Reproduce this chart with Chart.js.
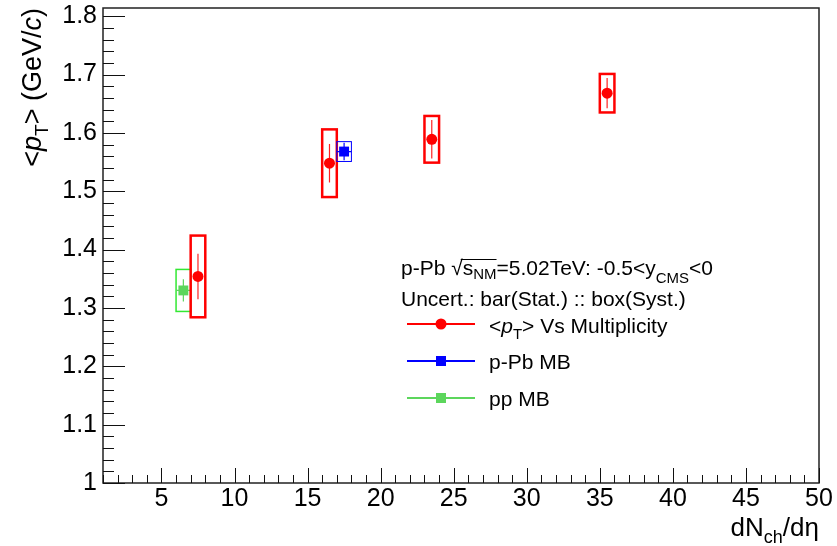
<!DOCTYPE html>
<html><head><meta charset="utf-8">
<script src="https://cdn.jsdelivr.net/npm/chart.js@4.4.1/dist/chart.umd.min.js"></script>
<style>html,body{margin:0;padding:0;background:#fff;}#wrap{width:837px;height:546px;position:relative;}</style>
</head><body><div id="wrap"><canvas id="c" width="837" height="546"></canvas></div>
<script>
// ---- data ----
const multX = [7.5, 16.5, 23.5, 35.5];
const multY = [1.354, 1.548, 1.589, 1.668];
const multStat = [0.039, 0.033, 0.033, 0.026];
const multSyst = [0.070, 0.058, 0.040, 0.033];
const pPbX = [17.5];
const pPbY = [1.568];
const pPbStat = [0.015];
const pPbSyst = [0.017];
const pPbXErr = [0.5];
const ppX = [6.5];
const ppY = [1.330];
const ppStat = [0.019];
const ppSyst = [0.036];
const ppXErr = [0.5];
const xTickValues = [5, 10, 15, 20, 25, 30, 35, 40, 45, 50];
const xTickLabels = ["5", "10", "15", "20", "25", "30", "35", "40", "45", "50"];
const yTickValues = [1, 1.1, 1.2, 1.3, 1.4, 1.5, 1.6, 1.7, 1.8];
const yTickLabels = ["1", "1.1", "1.2", "1.3", "1.4", "1.5", "1.6", "1.7", "1.8"];
const legendLabels = ["Vs Multiplicity", "p-Pb MB", "pp MB"];

const FONT = '"Liberation Sans", Arial, Helvetica, sans-serif';
const BOX_HALF_W = 0.5;

const seriesDefs = [
  {x: ppX, y: ppY, stat: ppStat, syst: ppSyst, xerr: ppXErr, color: '#5cd65c', box: '#33e833', boxLW: 1.5},
  {x: multX, y: multY, stat: multStat, syst: multSyst, xerr: null, color: '#ff2020', box: '#ff0000', boxLW: 2.5},
  {x: pPbX, y: pPbY, stat: pPbStat, syst: pPbSyst, xerr: pPbXErr, color: '#0000ff', box: '#0000ff', boxLW: 1}
];

function toPts(xs, ys) { return xs.map((v, i) => ({x: v, y: ys[i]})); }

function drawRich(ctx, x, y, parts) {
  let cx = x;
  const pos = [];
  for (const p of parts) {
    ctx.font = p.font;
    ctx.fillText(p.t, cx, y + (p.dy || 0));
    const w = ctx.measureText(p.t).width;
    pos.push([cx, cx + w]);
    cx += w + (p.gap || 0);
  }
  return {end: cx, pos};
}
function richWidth(ctx, parts) {
  let w = 0;
  for (const p of parts) { ctx.font = p.font; w += ctx.measureText(p.t).width + (p.gap || 0); }
  return w;
}

const errPlugin = {
  id: 'errPlugin',
  beforeDatasetsDraw(chart) {
    const ctx = chart.ctx, xs = chart.scales.x, ys = chart.scales.y;
    ctx.save();
    for (const s of seriesDefs) {
      for (let i = 0; i < s.x.length; i++) {
        const l = xs.getPixelForValue(s.x[i] - BOX_HALF_W), r = xs.getPixelForValue(s.x[i] + BOX_HALF_W);
        const t = ys.getPixelForValue(s.y[i] + s.syst[i]), b = ys.getPixelForValue(s.y[i] - s.syst[i]);
        ctx.strokeStyle = s.box; ctx.lineWidth = s.boxLW;
        ctx.strokeRect(l, t, r - l, b - t);
        const px = xs.getPixelForValue(s.x[i]), py = ys.getPixelForValue(s.y[i]);
        ctx.strokeStyle = s.color; ctx.lineWidth = 1.2;
        ctx.beginPath();
        ctx.moveTo(px, ys.getPixelForValue(s.y[i] + s.stat[i]));
        ctx.lineTo(px, ys.getPixelForValue(s.y[i] - s.stat[i]));
        if (s.xerr) {
          ctx.moveTo(xs.getPixelForValue(s.x[i] - s.xerr[i]), py);
          ctx.lineTo(xs.getPixelForValue(s.x[i] + s.xerr[i]), py);
        }
        ctx.stroke();
      }
    }
    ctx.restore();
  },
  afterDraw(chart) {
    const ctx = chart.ctx, xs = chart.scales.x, ys = chart.scales.y, a = chart.chartArea;
    ctx.save();
    // frame
    ctx.strokeStyle = '#222'; ctx.lineWidth = 1.5;
    ctx.strokeRect(a.left, a.top, a.right - a.left, a.bottom - a.top);
    // inner ticks
    ctx.lineWidth = 1; ctx.strokeStyle = '#111';
    ctx.beginPath();
    for (let v = Math.ceil(xs.min); v <= xs.max + 1e-9; v += 1) {
      const p = Math.round(xs.getPixelForValue(v)) + 0.5;
      const len = (v % 5 === 0) ? 15 : 8;
      ctx.moveTo(p, a.bottom); ctx.lineTo(p, a.bottom - len);
    }
    for (let k = 0; k <= 40; k++) {
      const v = 1 + k * 0.02;
      const p = Math.round(ys.getPixelForValue(v)) + 0.5;
      const len = (k % 5 === 0) ? 22 : 11;
      ctx.moveTo(a.left, p); ctx.lineTo(a.left + len, p);
    }
    ctx.stroke();

    ctx.fillStyle = '#000';
    ctx.textBaseline = 'alphabetic';
    ctx.textAlign = 'left';
    // x title
    const f26 = '26px ' + FONT, f18 = '18px ' + FONT;
    const xt = [{t: 'dN', font: f26}, {t: 'ch', font: f18, dy: 7}, {t: '/d\u03b7', font: f26}];
    drawRich(ctx, a.right - richWidth(ctx, xt), 536, xt);
    // y title (rotated)
    const f27 = '27px ' + FONT, fi27 = 'italic 27px ' + FONT, f19 = '19px ' + FONT;
    const yt = [{t: '<', font: f27}, {t: 'p', font: fi27}, {t: 'T', font: f19, dy: 7}, {t: '> (GeV/', font: f27}, {t: 'c', font: fi27}, {t: ')', font: f27}];
    ctx.save();
    ctx.translate(41, a.top);
    ctx.rotate(-Math.PI / 2);
    drawRich(ctx, -richWidth(ctx, yt), 0, yt);
    ctx.restore();

    // legend header
    const f21 = '21px ' + FONT, f15 = '15px ' + FONT, fi21 = 'italic 21px ' + FONT;
    let r1 = drawRich(ctx, 401, 275, [{t: 'p-Pb ', font: f21}, {t: '\u221a', font: f21}]);
    let r2 = drawRich(ctx, r1.end, 275, [{t: 's', font: f21}, {t: 'NM', font: f15, dy: 4}]);
    ctx.strokeStyle = '#000'; ctx.lineWidth = 1;
    ctx.beginPath(); ctx.moveTo(r1.end - 2, 259.5); ctx.lineTo(r2.end, 259.5); ctx.stroke();
    drawRich(ctx, r2.end, 275, [{t: '=5.02TeV: -0.5<y', font: f21}, {t: 'CMS', font: f15, dy: 8}, {t: '<0', font: f21}]);
    drawRich(ctx, 401, 306, [{t: 'Uncert.: bar(Stat.) :: box(Syst.)', font: f21}]);
    // legend entries
    const ents = [
      {y: 324, ty: 333, color: '#ff0000', m: 'circle', parts: [{t: '<', font: f21}, {t: 'p', font: fi21}, {t: 'T', font: f15, dy: 6}, {t: '> ' + legendLabels[0], font: f21}]},
      {y: 361, ty: 369, color: '#0000ff', m: 'rect', parts: [{t: legendLabels[1], font: f21}]},
      {y: 398, ty: 406, color: '#5cd65c', m: 'rect', parts: [{t: legendLabels[2], font: f21}]}
    ];
    for (const e of ents) {
      ctx.strokeStyle = e.color; ctx.lineWidth = 2;
      ctx.beginPath(); ctx.moveTo(407, e.y); ctx.lineTo(475, e.y); ctx.stroke();
      ctx.fillStyle = e.color;
      if (e.m === 'circle') { ctx.beginPath(); ctx.arc(441, e.y, 5.5, 0, Math.PI * 2); ctx.fill(); }
      else { ctx.fillRect(436, e.y - 5, 10, 10); }
      ctx.fillStyle = '#000';
      drawRich(ctx, 489, e.ty, e.parts);
    }
    ctx.restore();
  }
};

new Chart(document.getElementById('c'), {
  type: 'scatter',
  data: {
    datasets: [
      {label: 'pp MB', data: toPts(ppX, ppY), pointStyle: 'rect', pointRadius: 7, backgroundColor: '#5cd65c', borderColor: '#5cd65c', borderWidth: 0},
      {label: '<pT> Vs Multiplicity', data: toPts(multX, multY), pointStyle: 'circle', pointRadius: 5.5, backgroundColor: '#ff0000', borderColor: '#ff0000', borderWidth: 0},
      {label: 'p-Pb MB', data: toPts(pPbX, pPbY), pointStyle: 'rect', pointRadius: 7, backgroundColor: '#0000ff', borderColor: '#0000ff', borderWidth: 0}
    ]
  },
  options: {
    responsive: false,
    animation: false,
    devicePixelRatio: 1,
    layout: {padding: {left: 0, top: 8, right: 18, bottom: 0}},
    plugins: {legend: {display: false}, tooltip: {enabled: false}, title: {display: false}},
    elements: {point: {hoverRadius: 0}},
    scales: {
      x: {
        type: 'linear', min: 1, max: 50,
        grid: {display: false, drawTicks: false, tickLength: 0},
        border: {display: false},
        afterBuildTicks: (s) => { s.ticks = xTickValues.map(v => ({value: v})); },
        afterFit: (s) => { s.height = 63; s.paddingLeft = 0; s.paddingRight = 0; },
        ticks: {autoSkip: false, maxRotation: 0, padding: 1, color: '#000', font: {family: FONT, size: 25},
          callback: (v, i) => xTickLabels[i]}
      },
      y: {
        type: 'linear', min: 1, max: 1.814,
        grid: {display: false, drawTicks: false, tickLength: 0},
        border: {display: false},
        afterBuildTicks: (s) => { s.ticks = yTickValues.map(v => ({value: v})); },
        afterFit: (s) => { s.width = 103; s.paddingTop = 0; s.paddingBottom = 0; },
        ticks: {autoSkip: false, padding: 6, color: '#000', font: {family: FONT, size: 25},
          callback: (v, i) => yTickLabels[i]}
      }
    }
  },
  plugins: [errPlugin]
});
</script></body></html>
